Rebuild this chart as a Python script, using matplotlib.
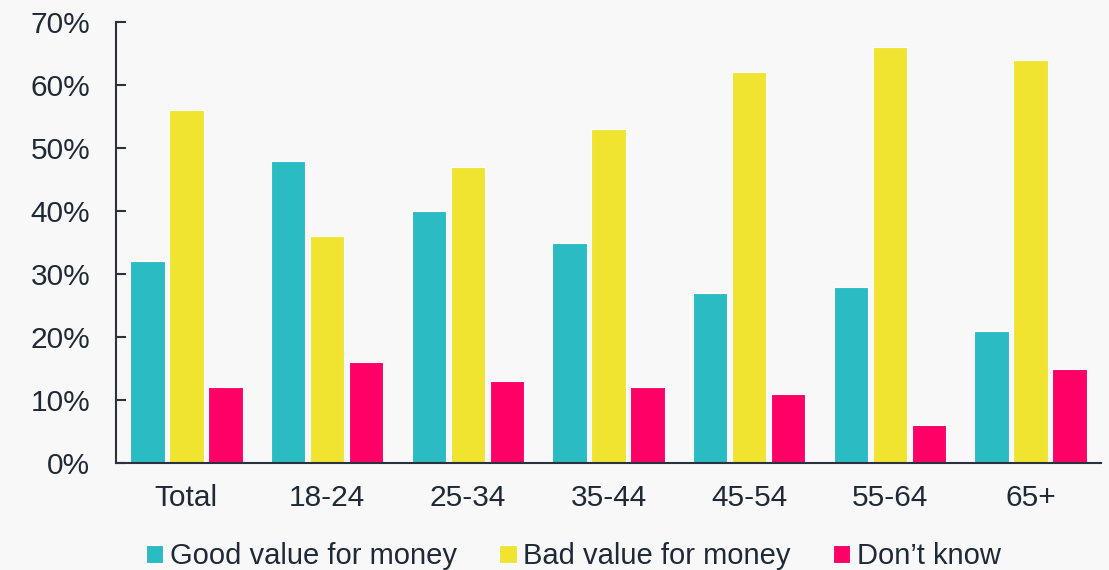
import matplotlib
matplotlib.use("Agg")
import matplotlib.pyplot as plt
import numpy as np

plt.rcParams['font.family'] = ['Liberation Sans', 'DejaVu Sans']

groups = ["Total", "18-24", "25-34", "35-44", "45-54", "55-64", "65+"]
good = [32, 48, 40, 35, 27, 28, 21]
bad = [56, 36, 47, 53, 62, 66, 64]
dont_know = [12, 16, 13, 12, 11, 6, 15]
series_names = ["Good value for money", "Bad value for money", "Don\u2019t know"]
colors = ["#2BBBC3", "#F0E431", "#FF0066"]
yticks = [0, 10, 20, 30, 40, 50, 60, 70]

bg = "#F8F8F8"
text_col = "#1F2A36"

fig = plt.figure(figsize=(11.09, 5.70), dpi=100, facecolor=bg)
ax = fig.add_axes([0.1046, 0.1877, 0.8882, 0.7737])
ax.set_facecolor(bg)

x = np.arange(len(groups))
step = 0.277
w = 0.245
for i, (vals, name, c) in enumerate(zip([good, bad, dont_know], series_names, colors)):
    ax.bar(x + (i - 1) * step, vals, width=w, color=c, edgecolor="white",
           linewidth=0.8, label=name)

ax.set_xlim(-0.5, len(groups) - 0.5)
ax.set_ylim(0, 70)
ax.set_yticks(yticks)
ax.set_yticklabels([f"{v}%" for v in yticks])
ax.set_xticks(x)
ax.set_xticklabels(groups)

for s in ["top", "right"]:
    ax.spines[s].set_visible(False)
for s in ["left", "bottom"]:
    ax.spines[s].set_color("#2A333D")
    ax.spines[s].set_linewidth(1.5)

ax.tick_params(axis="y", direction="in", length=7, width=1.5, color="#2A333D",
               labelsize=21.5, labelcolor=text_col, pad=18.5)
ax.tick_params(axis="x", length=0, labelsize=21.5, labelcolor=text_col, pad=15)

leg = fig.legend(loc="center", bbox_to_anchor=(0.517, 0.024), ncol=3, frameon=False,
                 fontsize=21, handlelength=0.6, handleheight=0.6,
                 handletextpad=0.22, columnspacing=1.45, borderaxespad=0)
for t in leg.get_texts():
    t.set_color(text_col)

fig.savefig("out.png", dpi=100, facecolor=bg)
